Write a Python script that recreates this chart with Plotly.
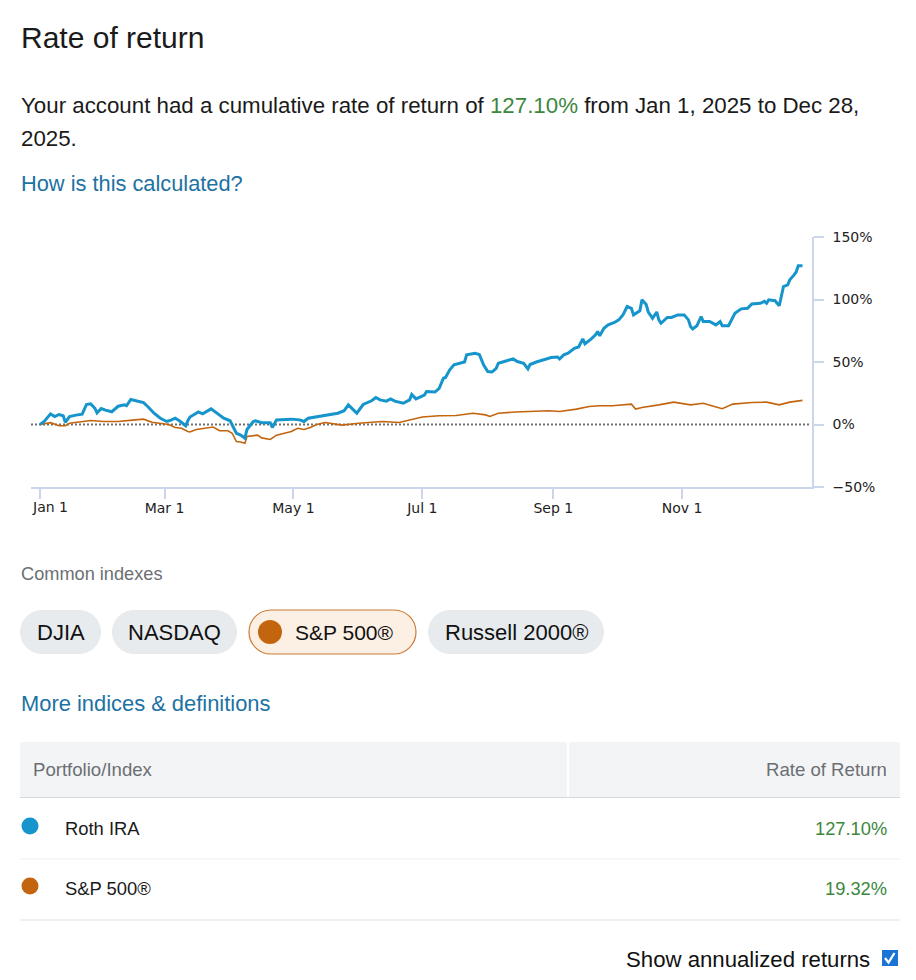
import plotly.graph_objects as go

# ---------------- data ----------------
roth_dates = [
    "2025-01-01", "2025-01-03", "2025-01-06", "2025-01-08", "2025-01-10", "2025-01-12", "2025-01-13",
    "2025-01-15", "2025-01-18", "2025-01-21", "2025-01-23", "2025-01-25", "2025-01-27", "2025-01-28",
    "2025-01-30", "2025-02-01", "2025-02-04", "2025-02-07", "2025-02-10", "2025-02-11", "2025-02-13",
    "2025-02-16", "2025-02-19", "2025-02-21", "2025-02-24", "2025-02-27", "2025-03-02", "2025-03-04",
    "2025-03-06", "2025-03-08", "2025-03-11", "2025-03-12", "2025-03-13", "2025-03-17", "2025-03-19",
    "2025-03-23", "2025-03-26", "2025-03-29", "2025-04-01", "2025-04-03", "2025-04-04", "2025-04-06",
    "2025-04-08", "2025-04-09", "2025-04-10", "2025-04-12", "2025-04-13", "2025-04-16", "2025-04-20",
    "2025-04-21", "2025-04-23", "2025-04-30", "2025-05-04", "2025-05-06", "2025-05-08", "2025-05-12",
    "2025-05-17", "2025-05-22", "2025-05-25", "2025-05-27", "2025-05-30", "2025-05-31", "2025-06-03",
    "2025-06-07", "2025-06-09", "2025-06-11", "2025-06-14", "2025-06-16", "2025-06-18", "2025-06-22",
    "2025-06-25", "2025-06-26", "2025-06-28", "2025-07-02", "2025-07-03", "2025-07-07", "2025-07-09",
    "2025-07-11", "2025-07-12", "2025-07-14", "2025-07-16", "2025-07-19", "2025-07-21", "2025-07-22",
    "2025-07-25", "2025-07-26", "2025-07-28", "2025-07-30", "2025-08-01", "2025-08-03", "2025-08-05",
    "2025-08-06", "2025-08-10", "2025-08-13", "2025-08-15", "2025-08-18", "2025-08-20", "2025-08-21",
    "2025-08-24", "2025-08-28", "2025-08-31", "2025-09-03", "2025-09-04", "2025-09-06", "2025-09-08",
    "2025-09-11", "2025-09-13", "2025-09-15", "2025-09-16", "2025-09-19", "2025-09-21", "2025-09-22",
    "2025-09-23", "2025-09-25", "2025-09-27", "2025-09-30", "2025-10-02", "2025-10-04", "2025-10-06",
    "2025-10-08", "2025-10-09", "2025-10-12", "2025-10-13", "2025-10-15", "2025-10-16", "2025-10-18",
    "2025-10-20", "2025-10-21", "2025-10-22", "2025-10-25", "2025-10-27", "2025-10-30", "2025-11-02",
    "2025-11-04", "2025-11-05", "2025-11-06", "2025-11-08", "2025-11-10", "2025-11-11", "2025-11-14",
    "2025-11-17", "2025-11-19", "2025-11-20", "2025-11-23", "2025-11-26", "2025-11-29", "2025-12-02",
    "2025-12-04", "2025-12-08", "2025-12-10", "2025-12-11", "2025-12-12", "2025-12-15", "2025-12-17",
    "2025-12-19", "2025-12-21", "2025-12-22", "2025-12-24", "2025-12-25", "2025-12-26", "2025-12-28",
]
roth_values = [
    0, 2.4, 8.5, 6.4, 8, 7, 1.8,
    6.4, 7.5, 8.3, 16, 16.5, 13, 9.3,
    12.8, 11.5, 10.2, 14.6, 15.7, 15, 20,
    19, 17.5, 14.4, 9, 5, 2.4, 3.5,
    5, 3, -1, 3, 6, 10, 8.5,
    12.5, 9, 5, 3, -4, -7, -8.5,
    -11, -4, -1.6, 2.4, 3, 1.5, 1.5,
    -2.4, 3.7, 4.3, 3.7, 2.4, 5, 6,
    7.7, 9, 11, 15.7, 10.7, 9, 16,
    19, 21.6, 19.7, 18.7, 20.5, 18.7, 17,
    19.7, 24, 20.5, 23.5, 26.4, 26, 29,
    37, 37.6, 43.7, 47.7, 49, 50, 55.7,
    56.5, 57, 56, 47.7, 42.4, 42, 45,
    49, 51, 52.5, 50.4, 49, 44.5, 48,
    50, 52, 53.6, 54, 52.5, 55.7, 57,
    61, 62, 68.5, 64.5, 68.5, 71.7, 74.4,
    71, 77, 79.7, 81.6, 83.7, 87.7, 94.4,
    93, 87.7, 91, 99.7, 96, 90, 85,
    90, 83.7, 81, 85.6, 85.6, 87.7, 87.7,
    83.7, 78.4, 76.5, 79, 86.4, 82.4, 82.4,
    79.7, 82.4, 79, 79, 89, 92.5, 93,
    96.5, 97, 98.5, 97, 99.7, 99, 95,
    110.4, 111.7, 115.7, 119.7, 122, 127, 127.1,
]

sp_dates = [
    "2025-01-01", "2025-01-06", "2025-01-10", "2025-01-13", "2025-01-15", "2025-01-20", "2025-01-25",
    "2025-01-31", "2025-02-07", "2025-02-15", "2025-02-19", "2025-02-23", "2025-02-27", "2025-03-03",
    "2025-03-06", "2025-03-09", "2025-03-12", "2025-03-13", "2025-03-16", "2025-03-21", "2025-03-24",
    "2025-03-27", "2025-03-31", "2025-04-02", "2025-04-04", "2025-04-06", "2025-04-08", "2025-04-09",
    "2025-04-12", "2025-04-14", "2025-04-16", "2025-04-20", "2025-04-23", "2025-04-27", "2025-04-30",
    "2025-05-03", "2025-05-06", "2025-05-09", "2025-05-12", "2025-05-16", "2025-05-19", "2025-05-24",
    "2025-06-01", "2025-06-12", "2025-06-20", "2025-06-25", "2025-07-01", "2025-07-09", "2025-07-17",
    "2025-07-25", "2025-07-31", "2025-08-02", "2025-08-06", "2025-08-14", "2025-08-22", "2025-08-30",
    "2025-09-04", "2025-09-12", "2025-09-18", "2025-09-23", "2025-09-29", "2025-10-08", "2025-10-10",
    "2025-10-13", "2025-10-21", "2025-10-28", "2025-11-05", "2025-11-11", "2025-11-15", "2025-11-20",
    "2025-11-25", "2025-12-04", "2025-12-11", "2025-12-17", "2025-12-22", "2025-12-28",
]
sp_values = [
    0, 1.5, -1, -1, 1, 2.4, 3.2,
    2.4, 2.4, 3.7, 4.3, 1.8, 1, 0,
    -2.4, -3, -5.6, -6, -4, -3, -2,
    -5, -5, -7, -13.6, -14, -15, -9.6,
    -9, -8.5, -10.7, -12, -8.5, -7, -5.6,
    -3, -4, -2.4, 0, 1.6, 1, -0.5,
    1, 2.4, 1.6, 3.7, 6, 7, 7.2,
    9, 7.7, 6.4, 9, 10, 10.4, 11,
    10.4, 12.3, 14.4, 15, 15, 16.3, 12.3,
    13.6, 15.7, 17.9, 15.7, 17, 15, 12.6,
    16.3, 17.6, 17.9, 15.7, 17.9, 19.32,
]

x_tickvals = ["2025-01-01", "2025-03-01", "2025-05-01", "2025-07-01", "2025-09-01", "2025-11-01"]
x_ticktext = ["Jan 1", "Mar 1", "May 1", "Jul 1", "Sep 1", "Nov 1"]
y_tickvals = [-50, 0, 50, 100, 150]
y_ticktext = ["\u221250%", "0%", "50%", "100%", "150%"]

index_names = ["DJIA", "NASDAQ", "S&P 500®", "Russell 2000®"]
portfolio_names = ["Roth IRA", "S&P 500®"]
portfolio_returns = ["127.10%", "19.32%"]
cumulative_return = "127.10%"

# ---------------- styling ----------------
BLUE = "#1595cb"
ORANGE = "#c3650f"
GREEN = "#3b873d"
LINK = "#1c72a3"
UI_FONT = "Liberation Sans, Arial, sans-serif"
AX_FONT = "DejaVu Sans, Verdana, sans-serif"
AXIS_COLOR = "#ccd6eb"

W, H = 916, 980
L, R, T, B = 31, 812, 237, 487  # plot area in pixels


def px(x):
    return (x - L) / (R - L)


def py(y):
    return (B - y) / (B - T)


fig = go.Figure()
fig.add_trace(go.Scatter(x=sp_dates, y=sp_values, mode="lines",
                         line=dict(color=ORANGE, width=1.6), hoverinfo="skip", name=portfolio_names[1]))
fig.add_trace(go.Scatter(x=roth_dates, y=roth_values, mode="lines",
                         line=dict(color=BLUE, width=3), hoverinfo="skip", name=portfolio_names[0]))

shapes = []
annotations = []

# zero line (dotted)
shapes.append(dict(type="line", xref="paper", yref="y", x0=0, x1=px(809), y0=0, y1=0,
                   line=dict(color="#707070", width=2, dash="2px,2px"), layer="below"))


def text(x, y, s, size, color="#1a1a1a", anchor="left", family=UI_FONT):
    annotations.append(dict(xref="paper", yref="paper", x=px(x), y=py(y), text=s, showarrow=False,
                            xanchor=anchor, yanchor="middle", font=dict(family=family, size=size, color=color),
                            borderpad=0))


def pill(x0, y0, x1, y1, fill, border=None):
    r = (y1 - y0) / 2
    k = 0.5523 * r
    pts = [
        ("M", [(x0 + r, y0)]),
        ("L", [(x1 - r, y0)]),
        ("C", [(x1 - r + k, y0), (x1, y0 + r - k), (x1, y0 + r)]),
        ("C", [(x1, y0 + r + k), (x1 - r + k, y1), (x1 - r, y1)]),
        ("L", [(x0 + r, y1)]),
        ("C", [(x0 + r - k, y1), (x0, y1 - r + k), (x0, y0 + r)]),
        ("C", [(x0, y0 + r - k), (x0 + r - k, y0), (x0 + r, y0)]),
    ]
    path = ""
    for cmd, ps in pts:
        path += cmd + " " + " ".join(f"{px(a):.5f},{py(b):.5f}" for a, b in ps) + " "
    path += "Z"
    shapes.append(dict(type="path", xref="paper", yref="paper", path=path, fillcolor=fill,
                       line=dict(color=border if border else fill, width=1.2 if border else 0), layer="below"))


def circle(cx, cy, r, color):
    shapes.append(dict(type="circle", xref="paper", yref="paper", x0=px(cx - r), x1=px(cx + r),
                       y0=py(cy + r), y1=py(cy - r), fillcolor=color, line=dict(width=0)))


def rect(x0, y0, x1, y1, color):
    shapes.append(dict(type="rect", xref="paper", yref="paper", x0=px(x0), x1=px(x1),
                       y0=py(y1), y1=py(y0), fillcolor=color, line=dict(width=0), layer="below"))


def hline(x0, x1, y, color, width=1):
    shapes.append(dict(type="line", xref="paper", yref="paper", x0=px(x0), x1=px(x1),
                       y0=py(y), y1=py(y), line=dict(color=color, width=width)))


# header texts
text(20, 37, "Rate of return", 30)
text(20, 105, f"Your account had a cumulative rate of return of <span style='color:{GREEN}'>{cumulative_return}</span> from Jan 1, 2025 to Dec 28,", 22.3)
text(20, 138, "2025.", 22.3)
text(20, 183, "How is this calculated?", 21.8, LINK)

# common indexes
text(20, 574, "Common indexes", 18.2, "#6b6f73")
pill_boxes = [(20, 101), (112, 237), (249, 416), (428, 604)]
for i, (name, (a, b)) in enumerate(zip(index_names, pill_boxes)):
    if i == 2:
        pill(a, 610, b, 654, "#fcefe3", "#cc7a33")
        circle(270, 632, 12, ORANGE)
        text(344, 632, name, 21, "#111111", "center")
    else:
        pill(a, 610, b, 654, "#e8ebee")
        text((a + b) / 2, 632, name, 22, "#111111", "center")

text(20, 703, "More indices & definitions", 21.9, LINK)

# table
rect(20, 742, 900, 797, "#f3f4f6")
shapes.append(dict(type="line", xref="paper", yref="paper", x0=px(568), x1=px(568), y0=py(797), y1=py(742),
                   line=dict(color="#ffffff", width=2)))
hline(20, 900, 797.5, "#d6dadf", 1.2)
text(32, 769, "Portfolio/Index", 18.6, "#6b6f73")
text(888, 769, "Rate of Return", 18.6, "#6b6f73", "right")
row_y = [827, 887]
row_colors = [BLUE, ORANGE]
for nm, rv, yy, col in zip(portfolio_names, portfolio_returns, row_y, row_colors):
    circle(30, yy - 1, 8.5, col)
    text(64, yy + 1, nm, 18.4, "#1a1a1a")
    text(888, yy + 1, rv, 18.3, GREEN, "right")
hline(20, 900, 859, "#eceef1", 1)
hline(20, 900, 920, "#dfe2e6", 1.2)

# checkbox
text(871, 959, "Show annualized returns", 22.2, "#111111", "right")
rect(882, 950, 898, 966, "#1b73d6")
shapes[-1]["layer"] = "above"
shapes.append(dict(type="path", xref="paper", yref="paper",
                   path=f"M {px(885)},{py(958)} L {px(888.5)},{py(962.5)} L {px(894.5)},{py(953)}",
                   line=dict(color="#ffffff", width=2.2)))

# first x tick label is justified to the plot's left edge (as in the reference)
axis_tickfont = dict(family=AX_FONT, size=14, color="#222222")
shown_ticktext = [""] + x_ticktext[1:]
annotations.append(dict(xref="paper", yref="paper", x=0, y=py(507), text=x_ticktext[0], showarrow=False,
                        xanchor="left", yanchor="middle", font=axis_tickfont, borderpad=0))

fig.update_layout(
    width=W, height=H, autosize=False,
    margin=dict(l=L, r=W - R, t=T, b=H - B, pad=0),
    paper_bgcolor="white", plot_bgcolor="white",
    showlegend=False,
    shapes=shapes, annotations=annotations,
    xaxis=dict(type="date", range=["2024-12-27 18:00", "2026-01-01 12:00"],
               tickvals=x_tickvals, ticktext=shown_ticktext,
               showline=True, linecolor=AXIS_COLOR, linewidth=1.5,
               ticks="outside", ticklen=10, tickcolor=AXIS_COLOR, tickwidth=1.5,
               showgrid=False, zeroline=False, ticklabelstandoff=-3,
               tickfont=axis_tickfont),
    yaxis=dict(range=[-50, 150], side="right", tickvals=y_tickvals, ticktext=y_ticktext,
               showline=True, linecolor=AXIS_COLOR, linewidth=1.5,
               ticks="outside", ticklen=10, tickcolor=AXIS_COLOR, tickwidth=1.5,
               showgrid=False, zeroline=False, ticklabelstandoff=6,
               tickfont=axis_tickfont),
)

fig.write_html("out.html", config={"displayModeBar": False},
               post_script="document.body.style.margin='0';")
